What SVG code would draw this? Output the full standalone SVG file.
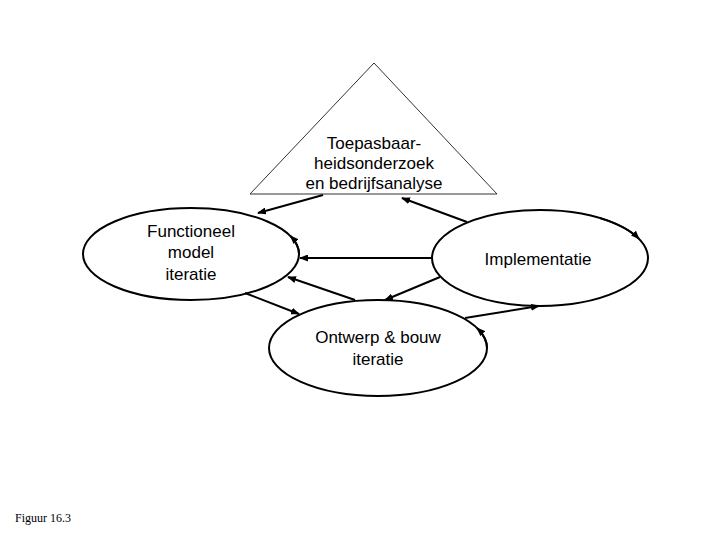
<svg xmlns="http://www.w3.org/2000/svg" width="720" height="540" viewBox="0 0 720 540">
<style>
.node{fill:#fff;stroke:#000;stroke-width:2}
.tri{fill:#fff;stroke:#333;stroke-width:1}
.lbl{font-family:"Liberation Sans",Arial,sans-serif;font-size:17px;fill:#000;text-anchor:middle}
.con{fill:none;stroke:#000;stroke-width:2;marker-end:url(#ah)}
.cap{font-family:"Liberation Serif","Times New Roman",serif;font-size:12px;fill:#000}
</style>
<defs>
<marker id="ah" markerUnits="userSpaceOnUse" markerWidth="9" markerHeight="7" refX="8" refY="3.5" orient="auto">
<path d="M0,0 L9,3.5 L0,7 z" fill="#000"/>
</marker>
</defs>
<rect width="720" height="540" fill="#fff"/>
<g id="node-toepasbaarheid">
<polygon class="tri" points="374,63 250,194 497,194"/>
<text class="lbl" x="374" y="149">Toepasbaar-</text>
<text class="lbl" x="374" y="169">heidsonderzoek</text>
<text class="lbl" x="374" y="189">en bedrijfsanalyse</text>
</g>
<g id="node-functioneel">
<ellipse class="node" cx="191" cy="254" rx="108" ry="46"/>
<text class="lbl" x="191" y="237">Functioneel</text>
<text class="lbl" x="191" y="258">model</text>
<text class="lbl" x="191" y="280">iteratie</text>
</g>
<g id="node-implementatie">
<ellipse class="node" cx="540" cy="258" rx="108" ry="48"/>
<text class="lbl" x="538" y="265">Implementatie</text>
</g>
<g id="node-ontwerp">
<ellipse class="node" cx="378" cy="348" rx="109" ry="48"/>
<text class="lbl" x="378" y="343">Ontwerp &amp; bouw</text>
<text class="lbl" x="378" y="365">iteratie</text>
</g>
<g id="connectors">
<path class="con" d="M323,195 L258,213"/>
<path class="con" d="M467,222 L402,198"/>
<path class="con" d="M432,258 L300,258"/>
<path class="con" d="M355,300 L288,277"/>
<path class="con" d="M440,277 L385,300"/>
<path class="con" d="M245,293 L299,314"/>
<path class="con" d="M465,318 L539,306"/>
<path class="con" d="M299,254 A108,46 0 0 0 290.5,236"/>
<path class="con" d="M600,218.1 A108,48 0 0 1 639,238.8"/>
<path class="con" d="M487,348 A109,48 0 0 0 477,328"/>
</g>
<text class="cap" x="15" y="522">Figuur 16.3</text>
</svg>
